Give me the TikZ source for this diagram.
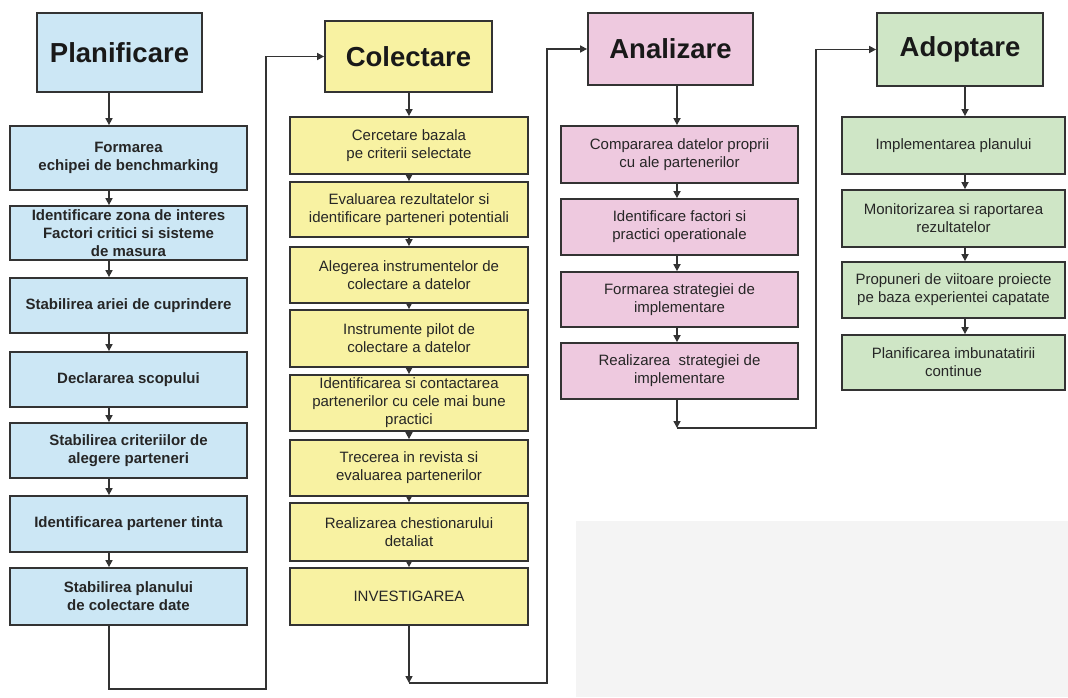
\documentclass[tikz,border=0pt]{standalone}
\usepackage{fontspec}
\setmainfont{Liberation Sans}
\usetikzlibrary{arrows.meta}

\definecolor{planblue}{HTML}{CCE7F5}
\definecolor{colyellow}{HTML}{F8F2A2}
\definecolor{anapink}{HTML}{EEC9DF}
\definecolor{adogreen}{HTML}{CFE6C6}
\definecolor{boxline}{HTML}{333333}
\definecolor{txt}{HTML}{262626}
\definecolor{haze}{HTML}{F4F4F4}

\begin{document}
\begin{tikzpicture}[x=1pt,y=-1pt,
  box/.style={draw=boxline, line width=1.8pt, align=center, inner sep=2pt,
    text=txt, font=\fontsize{15}{18}\selectfont},
  boldbox/.style={box, font=\fontsize{15}{18}\selectfont\bfseries},
  head/.style={box, text=black!90, font=\fontsize{27.5}{31}\selectfont\bfseries},
  arr/.style={-{Triangle[length=7pt,width=7pt]}, line width=1.6pt, draw=boxline},
  link/.style={line width=1.6pt, draw=boxline}]

\useasboundingbox (0,0) rectangle (1068,697);
\fill[haze] (576,521) rectangle (1068,697);

% ---------- Planificare ----------
\node[head, fill=planblue, minimum width=165pt, minimum height=79pt] (p0) at (119.5,52.5) {Planificare};
\begin{scope}[every node/.style={boldbox, fill=planblue, minimum width=237pt}]
\node[minimum height=64pt] (p1) at (128.5,158) {Formarea\\echipei de benchmarking};
\node[minimum height=54pt] (p2) at (128.5,233) {Identificare zona de interes\\Factori critici si sisteme\\de masura};
\node[minimum height=55pt] (p3) at (128.5,305.5) {Stabilirea ariei de cuprindere};
\node[minimum height=55pt] (p4) at (128.5,379.5) {Declararea scopului};
\node[minimum height=55pt] (p5) at (128.5,450.5) {Stabilirea criteriilor de\\alegere parteneri};
\node[minimum height=56pt] (p6) at (128.5,524) {Identificarea partener tinta};
\node[minimum height=57pt] (p7) at (128.5,596.5) {Stabilirea planului\\de colectare date};
\end{scope}
\coordinate (px) at (109,0);
\draw[arr] (p0.south -| px) -- (p1.north -| px);
\foreach \a/\b in {p1/p2,p2/p3,p3/p4,p4/p5,p5/p6,p6/p7}
  \draw[arr] (\a.south -| px) -- (\b.north -| px);

% ---------- Colectare ----------
\node[head, fill=colyellow, minimum width=167pt, minimum height=71pt] (c0) at (408.5,56.5) {Colectare};
\begin{scope}[every node/.style={box, fill=colyellow, minimum width=238pt}]
\node[minimum height=57pt] (c1) at (409,145.5) {Cercetare bazala\\pe criterii selectate};
\node[minimum height=55pt] (c2) at (409,209.5) {Evaluarea rezultatelor si\\identificare parteneri potentiali};
\node[minimum height=56pt] (c3) at (409,275) {Alegerea instrumentelor de\\colectare a datelor};
\node[minimum height=57pt] (c4) at (409,338.5) {Instrumente pilot de\\colectare a datelor};
\node[minimum height=56pt] (c5) at (409,403) {Identificarea si contactarea\\partenerilor cu cele mai bune\\practici};
\node[minimum height=56pt] (c6) at (409,468) {Trecerea in revista si\\evaluarea partenerilor};
\node[minimum height=58pt] (c7) at (409,532) {Realizarea chestionarului\\detaliat};
\node[minimum height=57pt] (c8) at (409,596.5) {INVESTIGAREA};
\end{scope}
\coordinate (cx) at (409,0);
\draw[arr] (c0.south -| cx) -- (c1.north -| cx);
\foreach \a/\b in {c1/c2,c2/c3,c3/c4,c4/c5,c5/c6,c6/c7,c7/c8}
  \draw[arr] (\a.south -| cx) -- (\b.north -| cx);

% ---------- Analizare ----------
\node[head, fill=anapink, minimum width=165pt, minimum height=72pt] (a0) at (670.5,49) {Analizare};
\begin{scope}[every node/.style={box, fill=anapink, minimum width=237pt}]
\node[minimum height=57pt] (a1) at (679.5,154.5) {Compararea datelor proprii\\cu ale partenerilor};
\node[minimum height=56pt] (a2) at (679.5,227) {Identificare factori si\\practici operationale};
\node[minimum height=55pt] (a3) at (679.5,299.5) {Formarea strategiei de\\implementare};
\node[minimum height=56pt] (a4) at (679.5,371) {Realizarea\ \ strategiei de\\implementare};
\end{scope}
\coordinate (ax) at (677,0);
\draw[arr] (a0.south -| ax) -- (a1.north -| ax);
\foreach \a/\b in {a1/a2,a2/a3,a3/a4}
  \draw[arr] (\a.south -| ax) -- (\b.north -| ax);

% ---------- Adoptare ----------
\node[head, fill=adogreen, minimum width=166pt, minimum height=73pt] (d0) at (960,49.5) {Adoptare};
\begin{scope}[every node/.style={box, fill=adogreen, minimum width=223pt}]
\node[minimum height=57pt] (d1) at (953.5,145.5) {Implementarea planului};
\node[minimum height=57pt] (d2) at (953.5,218.5) {Monitorizarea si raportarea\\rezultatelor};
\node[minimum height=56pt] (d3) at (953.5,290) {Propuneri de viitoare proiecte\\pe baza experientei capatate};
\node[minimum height=55pt] (d4) at (953.5,362.5) {Planificarea imbunatatirii\\continue};
\end{scope}
\coordinate (dx) at (965,0);
\draw[arr] (d0.south -| dx) -- (d1.north -| dx);
\foreach \a/\b in {d1/d2,d2/d3,d3/d4}
  \draw[arr] (\a.south -| dx) -- (\b.north -| dx);

% ---------- links between phases ----------
\coordinate (pl) at (266,689);
\draw[arr] (p7.south -| px) |- (pl) |- (c0.west);

\coordinate (cj) at (409,683);
\coordinate (cr) at (547,683);
\draw[arr] (c8.south -| cx) -- (cj);
\draw[arr] (cj) -- (cr) |- (a0.west);

\coordinate (aj) at (677,428);
\coordinate (ar) at (816,428);
\draw[arr] (a4.south -| ax) -- (aj);
\draw[arr] (aj) -- (ar) |- (d0.west);
\end{tikzpicture}
\end{document}
